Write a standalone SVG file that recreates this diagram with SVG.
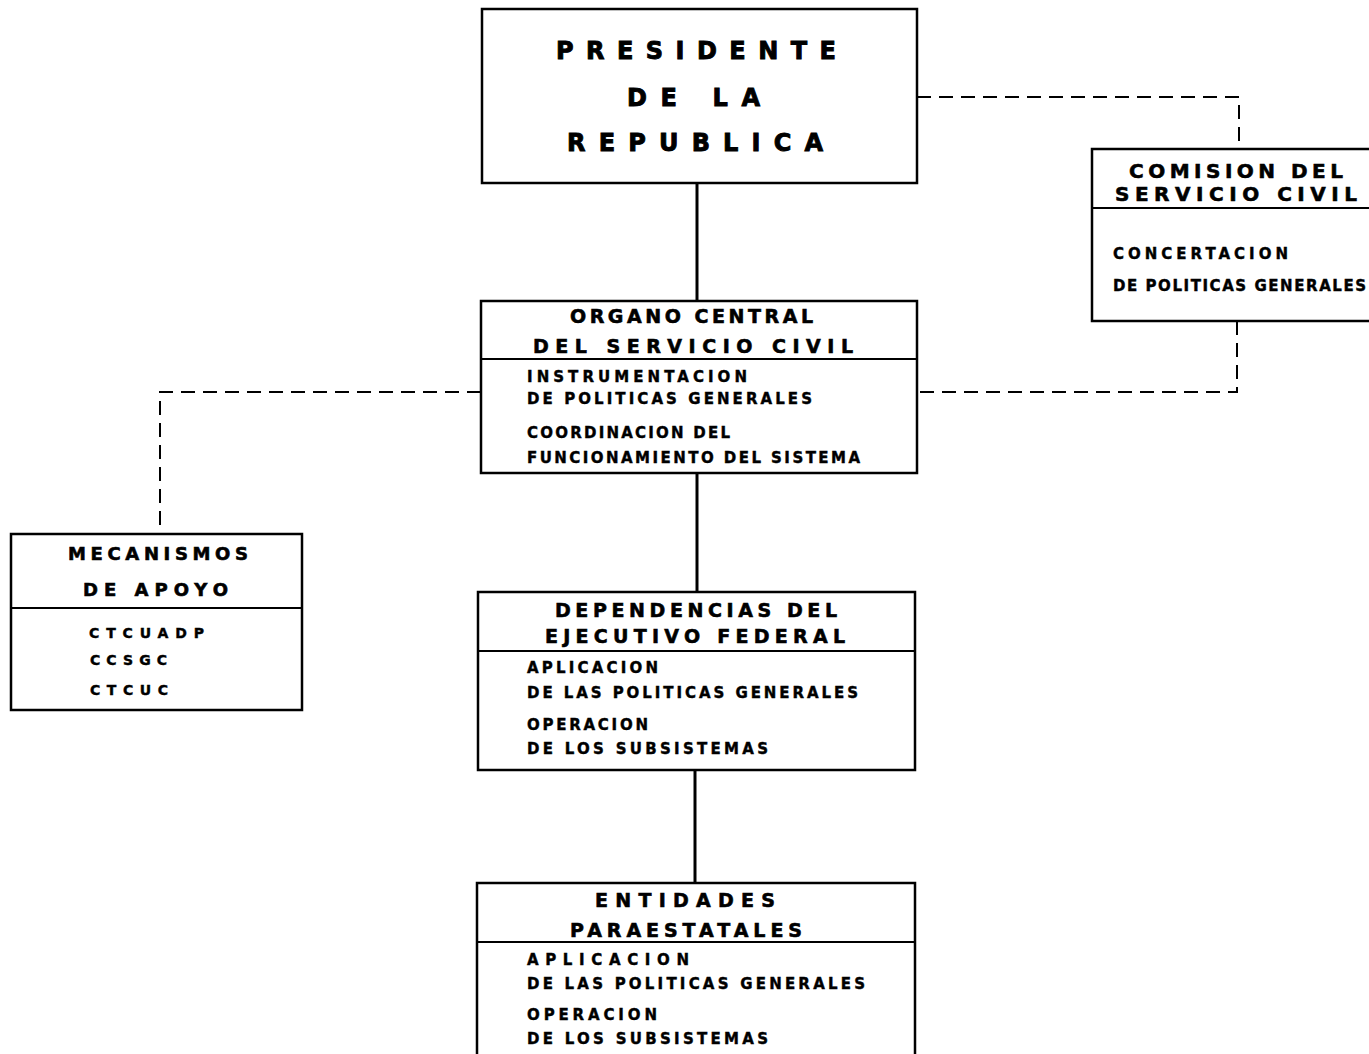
<svg xmlns="http://www.w3.org/2000/svg" width="1369" height="1054" viewBox="0 0 1369 1054">
<style>
.box{fill:#fff;stroke:#000;stroke-width:2.5}
.div{stroke:#000;stroke-width:2}
.solid{stroke:#000;stroke-width:3;fill:none}
.dash{stroke:#000;stroke-width:2;fill:none;stroke-dasharray:14 8}
text{font-family:"DejaVu Sans","Liberation Sans",Arial,sans-serif;font-weight:bold;fill:#000;stroke:#000;stroke-width:0.6}
.t24{font-size:24px;stroke-width:0.9}
.t20{font-size:20px}
.t19{font-size:19px}
.t18{font-size:18px}
.t15{font-size:15px;stroke-width:0.4}
.t14{font-size:14px;stroke-width:0.4}
</style>
<rect width="1369" height="1054" fill="#fff"/>
<g id="connectors">
<line class="solid" x1="697" y1="183" x2="697" y2="301"/>
<line class="solid" x1="697" y1="473" x2="697" y2="592"/>
<line class="solid" x1="695" y1="770" x2="695" y2="883"/>
<polyline class="dash" points="917,97 1239,97 1239,149"/>
<polyline class="dash" points="1237,321 1237,392 917,392"/>
<polyline class="dash" points="481,392 160,392 160,534"/>
</g>
<g id="presidente">
<rect class="box" x="482" y="9" width="435" height="174"/>
<text class="t24" x="556" y="59" textLength="280" lengthAdjust="spacing">PRESIDENTE</text>
<text class="t24" x="627" y="106" textLength="133" lengthAdjust="spacing">DE LA</text>
<text class="t24" x="567" y="151" textLength="256" lengthAdjust="spacing">REPUBLICA</text>
</g>
<g id="comision">
<rect class="box" x="1092" y="149" width="282" height="172"/>
<line class="div" x1="1092" y1="208" x2="1374" y2="208"/>
<text class="t20" x="1129" y="178" textLength="214" lengthAdjust="spacing">COMISION DEL</text>
<text class="t20" x="1115" y="201" textLength="242" lengthAdjust="spacing">SERVICIO CIVIL</text>
<text class="t15" x="1113" y="259" textLength="175" lengthAdjust="spacing">CONCERTACION</text>
<text class="t15" x="1113" y="291" textLength="253" lengthAdjust="spacing">DE POLITICAS GENERALES</text>
</g>
<g id="organo">
<rect class="box" x="481" y="301" width="436" height="172"/>
<line class="div" x1="481" y1="359" x2="917" y2="359"/>
<text class="t19" x="570" y="323" textLength="243" lengthAdjust="spacing">ORGANO CENTRAL</text>
<text class="t19" x="533" y="353" textLength="320" lengthAdjust="spacing">DEL SERVICIO CIVIL</text>
<text class="t15" x="527" y="382" textLength="220" lengthAdjust="spacing">INSTRUMENTACION</text>
<text class="t15" x="527" y="404" textLength="285" lengthAdjust="spacing">DE POLITICAS GENERALES</text>
<text class="t15" x="527" y="438" textLength="203" lengthAdjust="spacing">COORDINACION DEL</text>
<text class="t15" x="527" y="463" textLength="333" lengthAdjust="spacing">FUNCIONAMIENTO DEL SISTEMA</text>
</g>
<g id="mecanismos">
<rect class="box" x="11" y="534" width="291" height="176"/>
<line class="div" x1="11" y1="608" x2="302" y2="608"/>
<text class="t18" x="68" y="560" textLength="180" lengthAdjust="spacing">MECANISMOS</text>
<text class="t18" x="83" y="596" textLength="145" lengthAdjust="spacing">DE APOYO</text>
<text class="t14" x="89" y="638" textLength="115" lengthAdjust="spacing">CTCUADP</text>
<text class="t14" x="90" y="665" textLength="77" lengthAdjust="spacing">CCSGC</text>
<text class="t14" x="90" y="695" textLength="78" lengthAdjust="spacing">CTCUC</text>
</g>
<g id="dependencias">
<rect class="box" x="478" y="592" width="437" height="178"/>
<line class="div" x1="478" y1="651" x2="915" y2="651"/>
<text class="t19" x="555" y="617" textLength="282" lengthAdjust="spacing">DEPENDENCIAS DEL</text>
<text class="t19" x="545" y="643" textLength="300" lengthAdjust="spacing">EJECUTIVO FEDERAL</text>
<text class="t15" x="527" y="673" textLength="131" lengthAdjust="spacing">APLICACION</text>
<text class="t15" x="527" y="698" textLength="331" lengthAdjust="spacing">DE LAS POLITICAS GENERALES</text>
<text class="t15" x="527" y="730" textLength="121" lengthAdjust="spacing">OPERACION</text>
<text class="t15" x="527" y="754" textLength="241" lengthAdjust="spacing">DE LOS SUBSISTEMAS</text>
</g>
<g id="entidades">
<rect class="box" x="477" y="883" width="438" height="180"/>
<line class="div" x1="477" y1="942" x2="915" y2="942"/>
<text class="t19" x="595" y="907" textLength="180" lengthAdjust="spacing">ENTIDADES</text>
<text class="t19" x="570" y="937" textLength="232" lengthAdjust="spacing">PARAESTATALES</text>
<text class="t15" x="527" y="965" textLength="162" lengthAdjust="spacing">APLICACION</text>
<text class="t15" x="527" y="989" textLength="338" lengthAdjust="spacing">DE LAS POLITICAS GENERALES</text>
<text class="t15" x="527" y="1020" textLength="130" lengthAdjust="spacing">OPERACION</text>
<text class="t15" x="527" y="1044" textLength="241" lengthAdjust="spacing">DE LOS SUBSISTEMAS</text>
</g>
</svg>
